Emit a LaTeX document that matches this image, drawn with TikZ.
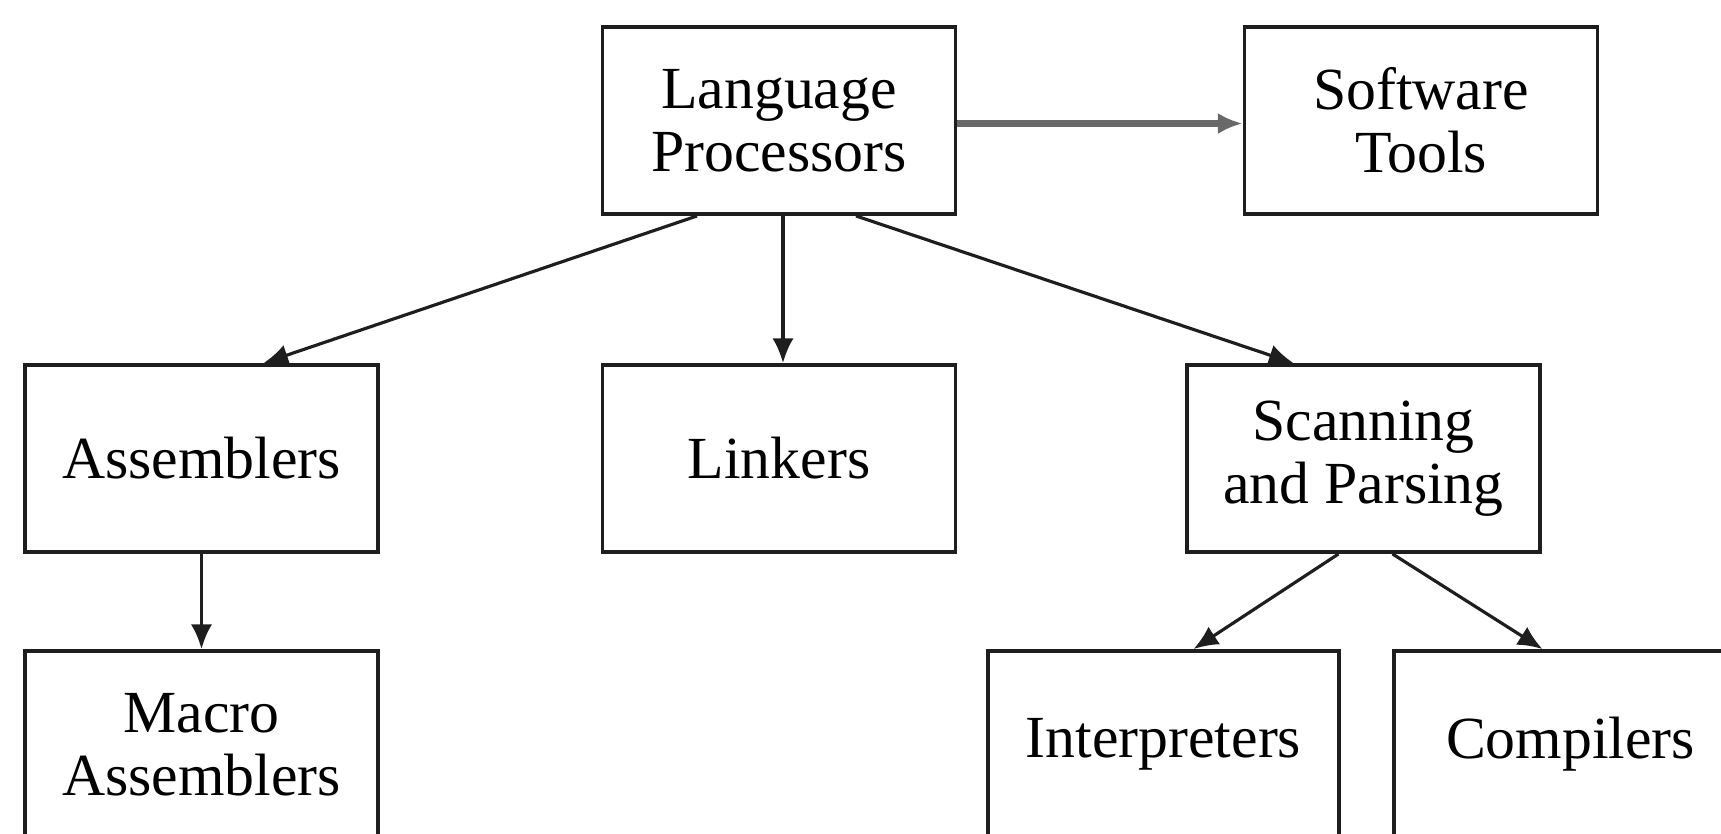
\documentclass[tikz,border=0pt]{standalone}
\usepackage{fontspec}
\setmainfont{Liberation Serif}
\usetikzlibrary{shapes,arrows,arrows.meta,positioning,calc}
\definecolor{InkGray}{RGB}{30, 30, 30}
\definecolor{ShaftGray}{RGB}{105, 105, 105}

\tikzset{
  procbox/.style={draw=InkGray, line width=1.1pt, minimum width=3.53cm,
    minimum height=1.87cm, align=center, inner sep=0pt,
    font=\fontsize{17}{18}\selectfont},
  link/.style={-{Latex[length=7pt,width=6pt]}, InkGray, line width=0.9pt}
}

\begin{document}
\begin{tikzpicture}
  \useasboundingbox (0,0) rectangle (17.21,-8.33);
  \clip (0,0) rectangle (17.21,-8.33);

  % Top row
  \node[procbox] (lp) at (7.79,-1.205) {Language\\Processors};
  \node[procbox] (st) at (14.21,-1.205) {Software\\Tools};

  % Middle row
  \node[procbox] (asm) at (2.015,-4.585) {Assemblers};
  \node[procbox] (lnk) at (7.79,-4.585) {Linkers};
  \node[procbox] (sp) at (13.635,-4.585) {Scanning\\and Parsing};

  % Bottom row (cut off by the page)
  \node[procbox] (mac) at (2.015,-7.445) {Macro\\Assemblers};
  \node[procbox, minimum width=3.51cm] (intp) at (11.635,-7.445) {Interpreters};
  \node[procbox] (comp) at (15.705,-7.445) {Compilers};

  % Connectors
  \draw[link, ShaftGray, line width=1.8pt] ([yshift=-0.03cm]lp.east) -- ([yshift=-0.03cm]st.west);
  \draw[link] ([xshift=-0.82cm]lp.south) -- ([xshift=0.62cm]asm.north);
  \draw[link] ([xshift=0.04cm]lp.south) -- ([xshift=0.04cm]lnk.north);
  \draw[link] ([xshift=0.77cm]lp.south) -- ([xshift=-0.70cm]sp.north);
  \draw[link] (asm.south) -- (mac.north);
  \draw[link] ([xshift=-0.25cm]sp.south) -- ([xshift=0.30cm]intp.north);
  \draw[link] ([xshift=0.29cm]sp.south) -- ([xshift=-0.28cm]comp.north);
\end{tikzpicture}
\end{document}
